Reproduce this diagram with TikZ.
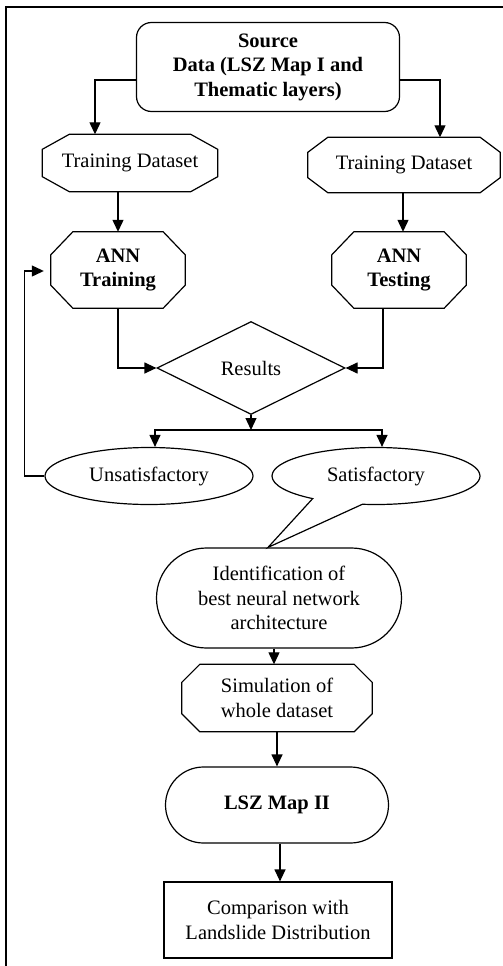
\documentclass[tikz,border=0pt]{standalone}
\usepackage{fontspec}
\setmainfont{Liberation Serif}
\usetikzlibrary{shapes.misc,shapes.geometric,shapes.callouts,arrows.meta,positioning,calc}

\tikzset{
  base/.style={draw, line width=1.2pt, inner sep=0pt, align=center},
  plain/.style={inner sep=0pt, align=center},
  stadium/.style={base, rounded rectangle},
  arr/.style={-{Triangle[length=12pt,width=11pt]}, line width=1.2pt},
}
% box with cut corners round a node
\newcommand{\cutbox}[3]{%
  \draw[line width=1.2pt] ([xshift=#2]#1.north west) -- ([xshift=-#2]#1.north east)
    -- ([yshift=-#3]#1.north east) -- ([yshift=#3]#1.south east)
    -- ([xshift=-#2]#1.south east) -- ([xshift=#2]#1.south west)
    -- ([yshift=#3]#1.south west) -- ([yshift=-#3]#1.north west) -- cycle;}

\begin{document}
\begin{tikzpicture}[x=1pt,y=-1pt,font=\fontsize{20.5}{24.5}\selectfont]
  \useasboundingbox (0,0) rectangle (503,966);
  % frame
  \draw[line width=2pt] (6,966) -- (6,7) -- (503,7);

  % source and datasets
  \node[base, rounded corners=15pt, minimum width=263, minimum height=89] (src) at (268,67)
    {\textbf{Source}\\ \textbf{Data (LSZ Map I and}\\ \textbf{Thematic layers)}};
  \node[plain, minimum width=175, minimum height=57] (tdl) at (130,163) {Training Dataset};
  \node[plain, minimum width=192, minimum height=55] (tdr) at (404,165) {Training Dataset};
  \cutbox{tdl}{27pt}{15pt}
  \cutbox{tdr}{20pt}{15pt}

  % ANN
  \node[plain, minimum width=134, minimum height=76] (annl) at (118,270) {\textbf{ANN}\\ \textbf{Training}};
  \node[plain, minimum width=134, minimum height=76] (annr) at (399,270) {\textbf{ANN}\\ \textbf{Testing}};
  \cutbox{annl}{22pt}{23pt}
  \cutbox{annr}{22pt}{23pt}

  % results
  \node[base, diamond, aspect=2, minimum width=188, minimum height=93] (res) at (251,368) {Results};
  \coordinate (split) at (251,430);
  \node[base, ellipse, minimum width=208, minimum height=57] (unsat) at (149,476) {Unsatisfactory};

  % final steps
  \node[stadium, minimum width=245, minimum height=100] (ident) at (279,598)
    {Identification of\\ best neural network\\ architecture};
  \node[base, ellipse callout, minimum width=208, minimum height=57, callout pointer arc=30,
    callout absolute pointer={([xshift=-11pt]ident.north)}] (sat) at (376,476) {Satisfactory};
  \node[plain, minimum width=190, minimum height=67] (sim) at (277,698) {Simulation of\\ whole dataset};
  \cutbox{sim}{18pt}{18pt}
  \node[stadium, minimum width=223, minimum height=76] (lsz) at (277,805) {\textbf{LSZ Map II}};
  \node[base, rectangle, minimum width=228, minimum height=76] (cmp) at (278,920)
    {Comparison with\\ Landslide Distribution};

  % connectors
  \draw[arr] ([yshift=-13pt]src.west) -| ([xshift=-35pt]tdl.north);
  \draw[arr] ([yshift=-13pt]src.east) -| ([xshift=36pt]tdr.north);
  \draw[arr] (tdl.south -| annl.north) -- (annl.north);
  \draw[arr] ([xshift=-1pt]tdr.south) -- ([xshift=-1pt]tdr.south |- annr.north);
  \draw[arr] (annl.south) |- (res.west);
  \draw[arr] ([xshift=-16pt]annr.south) |- (res.east);
  \draw[arr] (res.south) -- (split);
  \draw[arr] (split) -| ([xshift=6pt]unsat.north);
  \draw[arr] (split) -| ([xshift=6pt]sat.north);
  \draw[arr] (unsat.west) -- ++(-20,0) |- ([xshift=-7pt,yshift=-1pt]annl.west);
  \draw[arr] ([xshift=-5pt]ident.south) -- ([xshift=-3pt]sim.north);
  \draw[arr] (sim.south) -- (lsz.north);
  \draw[arr] ([xshift=3pt]lsz.south) -- ([xshift=2pt]cmp.north);
\end{tikzpicture}
\end{document}
